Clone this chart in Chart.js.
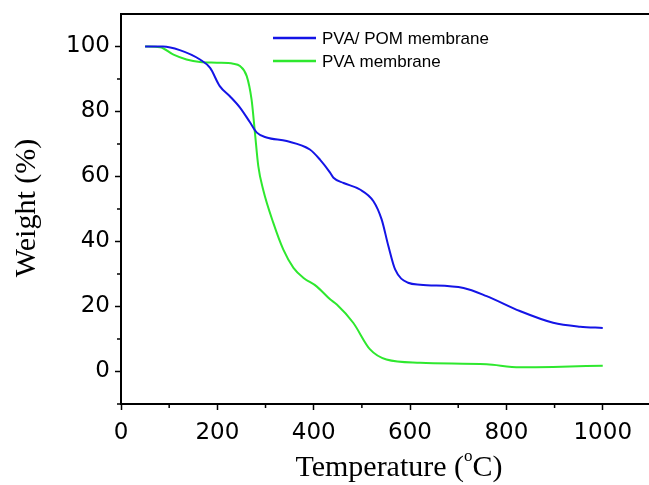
<!DOCTYPE html>
<html>
<head>
<meta charset="utf-8">
<script src="https://cdn.jsdelivr.net/npm/chart.js@4"></script>
<style>
  html, body { margin: 0; padding: 0; background: #fff; }
  #wrap { width: 649px; height: 485px; position: relative; }
</style>
</head>
<body>
<div id="wrap"><canvas id="tga"></canvas></div>
<script>
// PVA/POM membrane (temperature in °C, weight in %)
const pomTemp = [50, 87, 122, 164, 185, 205, 226, 247, 268, 282, 302, 344, 392, 413, 434, 441, 462, 496, 524, 541, 555, 569, 596, 621, 711, 759, 828, 897, 953, 1000];
const pomWeight = [100, 100, 98.9, 96, 93.4, 87.8, 84.7, 81.2, 76.6, 73.5, 72, 70.9, 68.3, 65.2, 61.2, 59.6, 58, 56, 52.4, 46.8, 38.6, 31.4, 27.3, 26.7, 25.7, 23.2, 18.6, 15, 13.8, 13.4];

// PVA membrane
const pvaTemp = [50, 81, 109, 136, 164, 199, 233, 247, 261, 271, 278, 285, 295, 316, 337, 358, 379, 406, 434, 448, 482, 517, 551, 621, 759, 828, 897, 1000];
const pvaWeight = [100, 99.8, 97.5, 96, 95.2, 95, 94.7, 94, 90.9, 83.7, 73.5, 63.2, 56, 45.8, 37.5, 31.9, 28.8, 26.2, 22.2, 20.6, 15, 6.8, 3.7, 2.7, 2.2, 1.3, 1.4, 1.8];

const seriesLabels = ['PVA/ POM membrane', 'PVA membrane'];
const xTicks = [0, 200, 400, 600, 800, 1000];
const xMinorTicks = [100, 300, 500, 700, 900];
const yTicks = [0, 20, 40, 60, 80, 100];
const yMinorTicks = [-10, 10, 30, 50, 70, 90];

const toPoints = (xs, ys) => xs.map((x, i) => ({ x: x, y: ys[i] }));

// top border, minor ticks, axis titles and legend
const decorations = {
  id: 'decorations',
  afterDraw(chart) {
    const ctx = chart.ctx;
    const area = chart.chartArea;
    const xs = chart.scales.x, ys = chart.scales.y;
    ctx.save();
    ctx.strokeStyle = '#000';
    ctx.lineWidth = 2;
    ctx.beginPath();
    ctx.moveTo(area.left - 1, area.top);
    ctx.lineTo(area.right, area.top);
    ctx.stroke();

    ctx.lineWidth = 1.5;
    xMinorTicks.forEach(v => {
      const px = xs.getPixelForValue(v);
      ctx.beginPath();
      ctx.moveTo(px, area.bottom);
      ctx.lineTo(px, area.bottom + 4);
      ctx.stroke();
    });
    yMinorTicks.forEach(v => {
      const py = ys.getPixelForValue(v);
      ctx.beginPath();
      ctx.moveTo(area.left, py);
      ctx.lineTo(area.left - 4, py);
      ctx.stroke();
    });

    // axis titles
    ctx.fillStyle = '#000';
    ctx.textBaseline = 'middle';
    ctx.font = '30px "Liberation Serif"';
    ctx.save();
    ctx.translate(27, 208);
    ctx.rotate(-Math.PI / 2);
    ctx.textAlign = 'center';
    ctx.fillText('Weight (%)', 0, 0);
    ctx.restore();

    const partA = 'Temperature (', partC = 'C)';
    const wA = ctx.measureText(partA).width;
    const wC = ctx.measureText(partC).width;
    ctx.font = '17px "Liberation Serif"';
    const wO = ctx.measureText('o').width;
    let x0 = 399 - (wA + wO + wC) / 2;
    ctx.textAlign = 'left';
    ctx.font = '30px "Liberation Serif"';
    ctx.fillText(partA, x0, 468);
    ctx.font = '17px "Liberation Serif"';
    ctx.fillText('o', x0 + wA, 457);
    ctx.font = '30px "Liberation Serif"';
    ctx.fillText(partC, x0 + wA + wO, 468);

    // legend
    ctx.font = '17px "Liberation Sans"';
    chart.data.datasets.forEach((ds, i) => {
      const y = 38 + i * 23;
      ctx.strokeStyle = ds.borderColor;
      ctx.lineWidth = 2.5;
      ctx.beginPath();
      ctx.moveTo(273, y);
      ctx.lineTo(316, y);
      ctx.stroke();
      ctx.fillStyle = '#000';
      ctx.fillText(ds.label, 322, y + 1);
    });
    ctx.restore();
  }
};

new Chart(document.getElementById('tga'), {
  type: 'scatter',
  data: {
    datasets: [
      {
        label: seriesLabels[0],
        data: toPoints(pomTemp, pomWeight),
        borderColor: '#1414e6',
        showLine: true,
        pointRadius: 0,
        borderWidth: 2,
        cubicInterpolationMode: 'monotone'
      },
      {
        label: seriesLabels[1],
        data: toPoints(pvaTemp, pvaWeight),
        borderColor: '#2ee82e',
        showLine: true,
        pointRadius: 0,
        borderWidth: 2,
        cubicInterpolationMode: 'monotone'
      }
    ]
  },
  options: {
    responsive: true,
    maintainAspectRatio: false,
    animation: false,
    layout: { padding: { top: 14, right: 0, left: 0, bottom: 0 } },
    plugins: {
      legend: { display: false },
      tooltip: { enabled: false }
    },
    scales: {
      x: {
        type: 'linear',
        min: 0,
        max: 1096,
        afterBuildTicks: (scale) => { scale.ticks = xTicks.map(v => ({ value: v })); },
        afterFit: (scale) => { scale.height = 81; scale.paddingLeft = 0; scale.paddingRight = 0; },
        grid: { drawOnChartArea: false, tickLength: 6, tickColor: '#000', tickWidth: 1.5 },
        border: { color: '#000', width: 2 },
        ticks: {
          color: '#000',
          padding: 9,
          maxRotation: 0,
          callback: (v) => String(v),
          font: { family: 'DejaVu Sans', size: 23 }
        }
      },
      y: {
        min: -10,
        max: 110,
        afterBuildTicks: (scale) => { scale.ticks = yTicks.map(v => ({ value: v })); },
        afterFit: (scale) => { scale.width = 121; scale.paddingTop = 0; scale.paddingBottom = 0; },
        grid: { drawOnChartArea: false, tickLength: 6, tickColor: '#000', tickWidth: 1.5 },
        border: { color: '#000', width: 2 },
        ticks: {
          color: '#000',
          padding: 5,
          font: { family: 'DejaVu Sans', size: 23 }
        }
      }
    }
  },
  plugins: [decorations]
});
</script>
</body>
</html>
